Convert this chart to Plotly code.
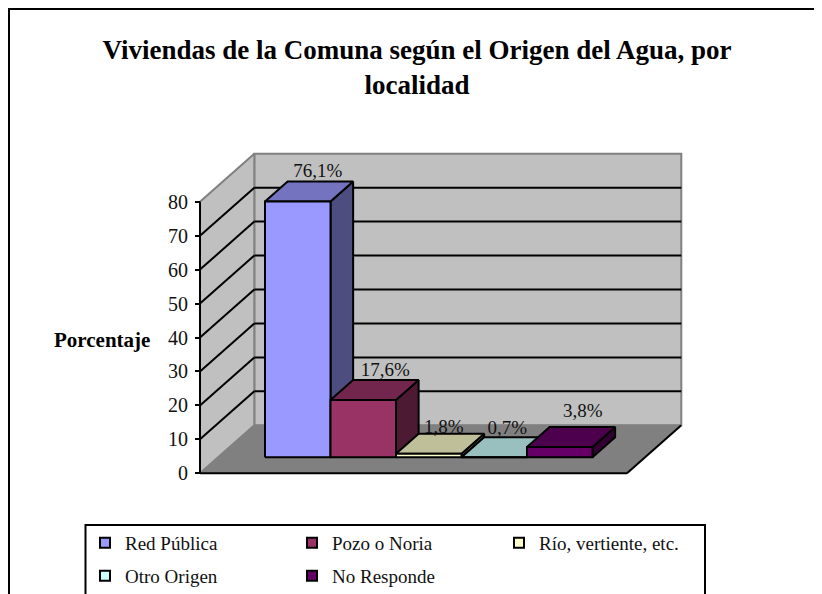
import plotly.graph_objects as go

# ---- data ----
categories = ["Red Pública", "Pozo o Noria", "Río, vertiente, etc.", "Otro Origen", "No Responde"]
values = [76.1, 17.6, 1.8, 0.7, 3.8]
labels = ["76,1%", "17,6%", "1,8%", "0,7%", "3,8%"]
tick_values = [0, 10, 20, 30, 40, 50, 60, 70, 80]
front_colors = ["#9999FF", "#993366", "#FFFFCC", "#CCFFFF", "#660066"]
top_colors = ["#7373BF", "#73264D", "#BFBF99", "#99BFBF", "#4D004D"]
side_colors = ["#4D4D80", "#4D1A33", "#808066", "#668080", "#330033"]
title_text = "Viviendas de la Comuna según el Origen del Agua, por<br>localidad"
axis_title = "Porcentaje"

# ---- layout constants (page margin of 8 px is taken off the figure) ----
OFF = 8
W, H = 822 - OFF, 594 - OFF
PX_PER_CAT = 65.5
PX_PER_VAL = 3.395
ORIGIN_X, ORIGIN_Y = 200.0 - OFF, 473.3 - OFF   # pixel of value 0 at front-left corner
DEPTH_U = 54.3 / PX_PER_CAT            # oblique depth in category units
DEPTH_V = 48.0 / PX_PER_VAL            # oblique depth in value units
FLOOR_U = 427.0 / PX_PER_CAT
VMAX = 80
BAR_D0, BAR_D1 = 1 / 3, 1 / 3 + 20 / 48
BAR_LEFT = 46.9 / PX_PER_CAT
ZERO_SHIFT = 2.5 / PX_PER_VAL
LABEL_NUDGE_X = [0, 2, -5, -7, 3]      # px
LABEL_NUDGE_Y = [-1, -1, -5, -2, 5]    # px, upward
GRAY = "#808080"
FONT = "Liberation Serif"


def P(u, v, d=0.0):
    return u + d * DEPTH_U, v + d * DEPTH_V


def poly(points, fill, line="black", width=2):
    xs, ys = zip(*(points + [points[0]]))
    return go.Scatter(x=list(xs), y=list(ys), mode="lines", fill="toself", fillcolor=fill,
                      line=dict(color=line, width=width), showlegend=False, hoverinfo="skip")


def seg(a, b, color="black", width=2):
    return go.Scatter(x=[a[0], b[0]], y=[a[1], b[1]], mode="lines",
                      line=dict(color=color, width=width), showlegend=False, hoverinfo="skip")


fig = go.Figure()

# walls and floor
fig.add_trace(poly([P(0, 0, 1), P(FLOOR_U, 0, 1), P(FLOOR_U, VMAX, 1), P(0, VMAX, 1)], "#C0C0C0", GRAY, 2))
fig.add_trace(poly([P(0, 0, 0), P(0, 0, 1), P(0, VMAX, 1), P(0, VMAX, 0)], "#C0C0C0", GRAY, 2))
fig.add_trace(poly([P(0, 0, 0), P(FLOOR_U, 0, 0), P(FLOOR_U, 0, 1), P(0, 0, 1)], GRAY, GRAY, 1))

# gridlines
for t in tick_values[1:-1]:
    fig.add_trace(seg(P(0, t, 0), P(0, t, 1)))
    fig.add_trace(seg(P(0, t, 1), P(FLOOR_U, t, 1)))

# front edges of the floor and the value axis line
fig.add_trace(seg(P(0, 0, 0), P(FLOOR_U, 0, 0)))
fig.add_trace(seg(P(FLOOR_U, 0, 0), P(FLOOR_U, 0, 1)))
fig.add_trace(seg(P(0, 0, 0), P(0, VMAX, 0)))

# bars
base_v = BAR_D0 * DEPTH_V
for i, v in enumerate(values):
    u0, u1 = BAR_LEFT + i, BAR_LEFT + i + 1
    top = max(base_v, base_v + v - ZERO_SHIFT)
    dv = (BAR_D1 - BAR_D0) * DEPTH_V
    du = (BAR_D1 - BAR_D0) * DEPTH_U
    x0 = u0 + BAR_D0 * DEPTH_U
    x1 = u1 + BAR_D0 * DEPTH_U
    fig.add_trace(poly([(x1, base_v), (x1 + du, base_v + dv), (x1 + du, top + dv), (x1, top)], side_colors[i]))
    fig.add_trace(poly([(x0, top), (x1, top), (x1 + du, top + dv), (x0 + du, top + dv)], top_colors[i]))
    fig.add_trace(poly([(x0, base_v), (x1, base_v), (x1, top), (x0, top)], front_colors[i]))

# data labels
lx, ly = [], []
for i, v in enumerate(values):
    top = max(base_v, base_v + v - ZERO_SHIFT) + (BAR_D1 - BAR_D0) * DEPTH_V
    lx.append(BAR_LEFT + i + 0.5 + BAR_D0 * DEPTH_U + (20 + LABEL_NUDGE_X[i]) / PX_PER_CAT)
    ly.append(top + (10 + LABEL_NUDGE_Y[i]) / PX_PER_VAL)
fig.add_trace(go.Scatter(x=lx, y=ly, mode="text", text=labels, textposition="middle center",
                         textfont=dict(family=FONT, size=19, color="#111111"),
                         showlegend=False, hoverinfo="skip"))

# legend entries, two rows as in the reference
for i, name in enumerate(categories):
    fig.add_trace(go.Scatter(x=[None], y=[None], mode="markers", name=name,
                             legend="legend" if i < 3 else "legend2",
                             marker=dict(symbol="square", size=10, color=front_colors[i],
                                         line=dict(color="black", width=2))))

xr = [-ORIGIN_X / PX_PER_CAT, (W - ORIGIN_X) / PX_PER_CAT]
yr = [-(H - ORIGIN_Y) / PX_PER_VAL, ORIGIN_Y / PX_PER_VAL]

legend_common = dict(orientation="h", entrywidth=162, entrywidthmode="pixels", xanchor="left",
                     yanchor="middle", bgcolor="rgba(0,0,0,0)", font=dict(family=FONT, size=19, color="#111111"),
                     x=(85 - OFF) / W, borderwidth=0, itemsizing="trace")

fig.update_layout(
    width=W, height=H, autosize=False,
    margin=dict(l=0, r=0, t=0, b=0, pad=0, autoexpand=False),
    paper_bgcolor="white", plot_bgcolor="white",
    font=dict(family=FONT, color="black"),
    title=dict(text="<b>" + title_text.replace("<br>", "</b><br><b>") + "</b>", x=(417 - OFF) / W, xanchor="center",
               y=1 - (59 - OFF) / H, yanchor="middle", font=dict(family=FONT, size=27, color="black")),
    xaxis=dict(visible=False, range=xr, domain=[0, 1], fixedrange=True),
    yaxis=dict(range=yr, domain=[0, 1], anchor="free", position=ORIGIN_X / W, side="left",
               tickmode="array", tickvals=tick_values, ticks="outside", ticklen=5, tickwidth=2,
               tickcolor="black", showgrid=False, zeroline=False, showline=False, ticklabelstandoff=3,
               tickfont=dict(family=FONT, size=20, color="#111111"), fixedrange=True),
    legend=dict(y=1 - (543 - OFF) / H, **legend_common),
    legend2=dict(y=1 - (576 - OFF) / H, **legend_common),
    annotations=[dict(text="<b>" + axis_title + "</b>", xref="paper", yref="paper", x=(101.5 - OFF) / W,
                      y=1 - (340 - OFF) / H, xanchor="center", yanchor="middle", showarrow=False,
                      font=dict(family=FONT, size=21, color="black"))],
    shapes=[
        dict(type="path", xref="paper", yref="paper", line=dict(color="black", width=2),
             path=f"M {1 / W} 0 L {1 / W} {1 - 1 / H} L 1 {1 - 1 / H}"),
        dict(type="path", xref="paper", yref="paper", line=dict(color="black", width=2),
             path=f"M {(85.5 - OFF) / W} 0 L {(85.5 - OFF) / W} {1 - (525 - OFF) / H} "
                  f"L {(705 - OFF) / W} {1 - (525 - OFF) / H} L {(705 - OFF) / W} 0"),
    ],
)

fig.write_html("out.html")
